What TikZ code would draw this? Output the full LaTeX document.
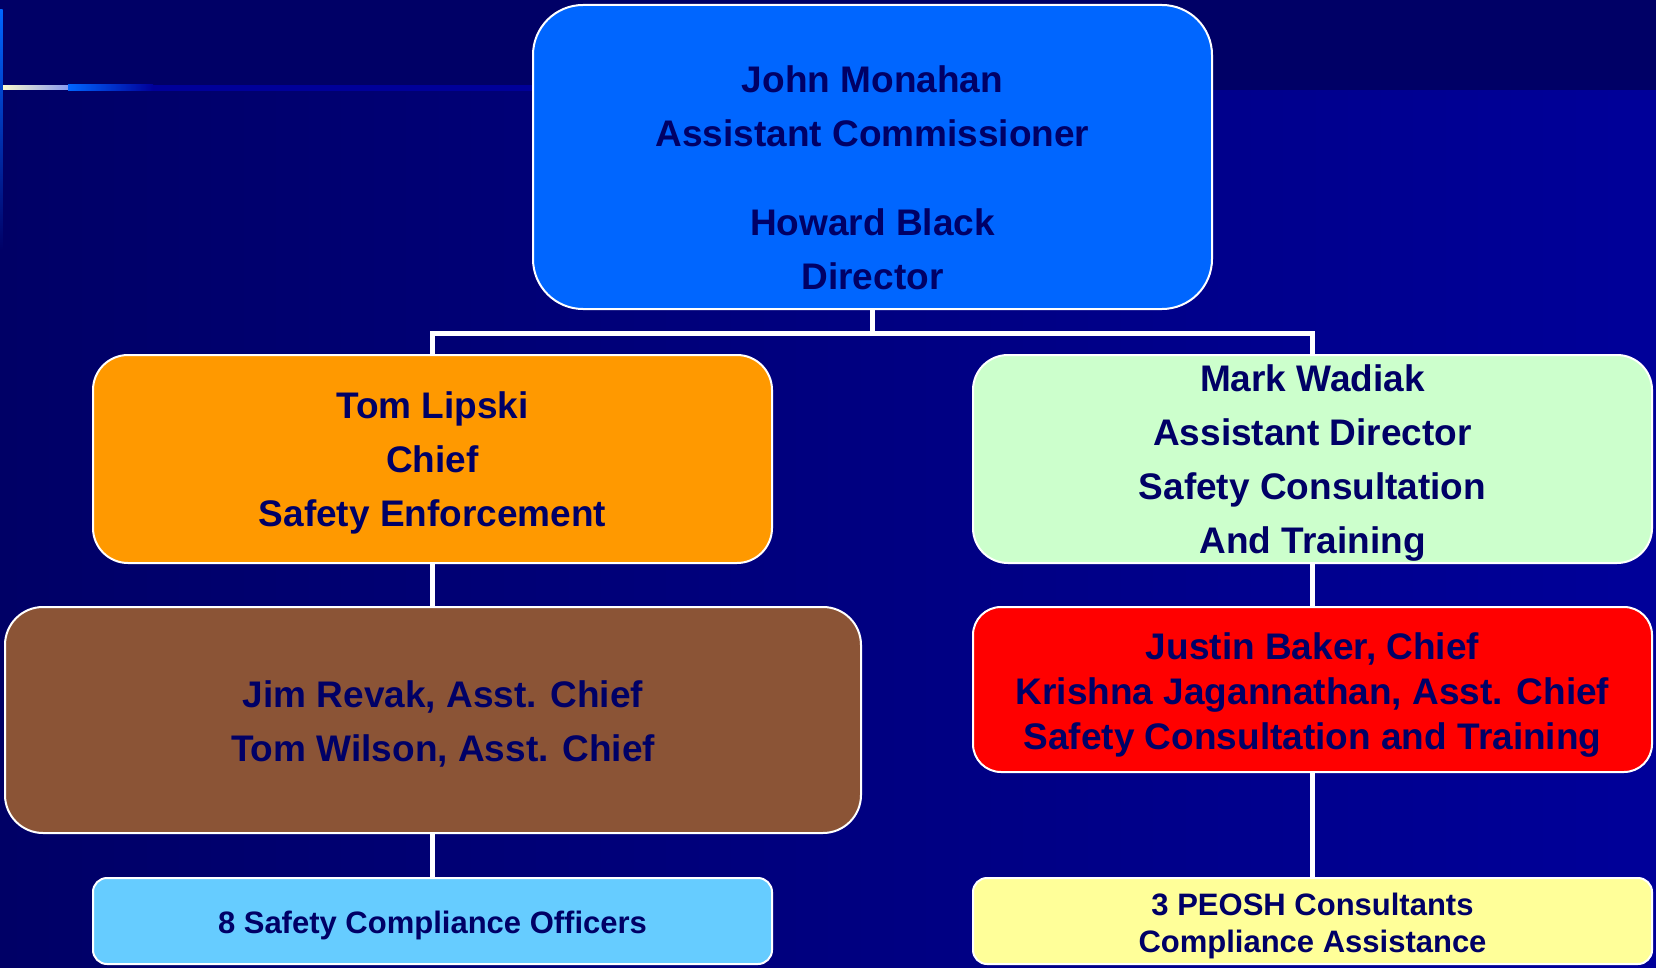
\documentclass[tikz,border=0pt]{standalone}
\usepackage{fontspec}
\setmainfont{Liberation Sans}
\definecolor{bgdark}{HTML}{000066}
\definecolor{bgright}{HTML}{000099}
\definecolor{navytext}{HTML}{000066}
\definecolor{topblue}{HTML}{0066FF}
\definecolor{orangebox}{HTML}{FF9900}
\definecolor{greenbox}{HTML}{CCFFCC}
\definecolor{brownbox}{RGB}{139,84,54}
\definecolor{redbox}{HTML}{FF0000}
\definecolor{skybox}{HTML}{66CCFF}
\definecolor{yellowbox}{HTML}{FFFF99}
\definecolor{paleyellow}{HTML}{FFFFCC}
\definecolor{lavender}{HTML}{8899EE}
\begin{document}
\begin{tikzpicture}[x=1pt,y=-1pt,
  box/.style={draw=white, line width=2pt, rectangle, inner sep=0pt},
  txt/.style={inner sep=0pt, align=center, text=navytext, font=\bfseries\fontsize{37}{54}\selectfont},
  small/.style={font=\bfseries\fontsize{31}{37}\selectfont},
  conn/.style={draw=white, line width=5pt}]
\useasboundingbox (0,0) rectangle (1656,968);
% background
\shade[left color=bgdark, right color=bgright] (0,0) rectangle (1656,968);
\fill[bgdark] (0,0) rectangle (1656,90);
% decorative rule
\shade[left color=paleyellow, right color=lavender] (0,86) rectangle (68,90);
\shade[left color=topblue, right color=bgright] (68,85) rectangle (153,91);
\fill[bgright] (153,85) rectangle (533,91);
\shade[top color=topblue, bottom color=bgdark] (0,10) rectangle (2.5,250);
% boxes
\node[box, fill=topblue, minimum width=679pt, minimum height=304pt, rounded corners=50pt] (top) at (872.5,157) {};
\node[box, fill=orangebox, minimum width=679pt, minimum height=208pt, rounded corners=35pt] (tom) at (432.5,459) {};
\node[box, fill=greenbox, minimum width=679pt, minimum height=208pt, rounded corners=35pt] (mark) at (1312.5,459) {};
\node[box, fill=brownbox, minimum width=856pt, minimum height=226pt, rounded corners=38pt] (jim) at (433,720) {};
\node[box, fill=redbox, minimum width=679pt, minimum height=165pt, rounded corners=28pt] (justin) at (1312.5,689.5) {};
\node[box, fill=skybox, minimum width=679pt, minimum height=86pt, rounded corners=14pt] (safety) at (432.5,921) {};
\node[box, fill=yellowbox, minimum width=679pt, minimum height=86pt, rounded corners=14pt] (peosh) at (1312.5,921) {};
% texts
\node[txt] (toptxt) at (872.5,177.5) {John Monahan\\Assistant Commissioner\\[35pt]Howard Black\\Director};
\node[txt] (tomtxt) at ([yshift=-4pt]tom.center) {Tom Lipski\\Chief\\Safety Enforcement};
\node[txt] (marktxt) at ([yshift=-4pt]mark.center) {Mark Wadiak\\Assistant Director\\Safety Consultation\\And Training};
\node[txt] (jimtxt) at ([xshift=10pt,yshift=-4pt]jim.center) {Jim Revak, Asst. Chief\\Tom Wilson, Asst. Chief};
\node[txt, font=\bfseries\fontsize{37}{45}\selectfont] (justintxt) at ([yshift=-6pt]justin.center) {Justin Baker, Chief\\Krishna Jagannathan, Asst. Chief\\Safety Consultation and Training};
\node[txt, small] (safetytxt) at ([yshift=-4pt]safety.center) {8 Safety Compliance Officers};
\node[txt, small] (peoshtxt) at ([yshift=-5pt]peosh.center) {3 PEOSH Consultants\\Compliance Assistance};
% connectors
\coordinate (bus) at (872.5,333);
\draw[conn] (top.south) -- (bus);
\draw[conn] (tom.north) |- (bus) -| (mark.north);
\draw[conn] (tom.south) -- (tom.south |- jim.north);
\draw[conn] (safety.north |- jim.south) -- (safety.north);
\draw[conn] (mark.south) -- (justin.north);
\draw[conn] (justin.south) -- (peosh.north);
\end{tikzpicture}
\end{document}
